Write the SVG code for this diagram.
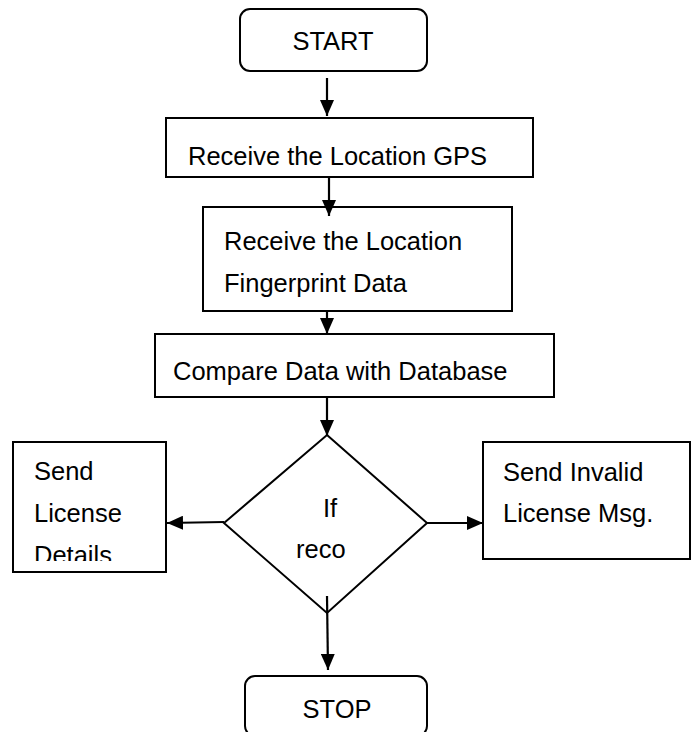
<svg xmlns="http://www.w3.org/2000/svg" width="693" height="732" viewBox="0 0 693 732">
<style>
.box{fill:#fff;stroke:#000;stroke-width:2}
.t{font-family:"Liberation Sans",Arial,sans-serif;font-size:25.5px;fill:#000}
.c{stroke:#000;stroke-width:2.2;fill:none}
</style>
<defs>
<marker id="ah" markerWidth="16" markerHeight="14" refX="16" refY="7" orient="auto" markerUnits="userSpaceOnUse">
<path d="M0,0 L16,7 L0,14 Z" fill="#000"/>
</marker>
<clipPath id="clipL"><rect x="0" y="440" width="200" height="121"/></clipPath>
</defs>
<rect width="693" height="732" fill="#fff"/>
<g id="start">
<rect class="box" x="240" y="9" width="187" height="62" rx="10"/>
<text class="t" x="333" y="50" text-anchor="middle">START</text>
</g>
<g id="gps">
<rect class="box" x="166" y="118" width="367" height="59"/>
<text class="t" x="188" y="165">Receive the Location GPS</text>
</g>
<g id="fingerprint">
<rect class="box" x="203" y="207" width="309" height="104"/>
<text class="t" x="224" y="250">Receive the Location</text>
<text class="t" x="224" y="292">Fingerprint Data</text>
</g>
<g id="compare">
<rect class="box" x="155" y="334" width="399" height="63"/>
<text class="t" x="173" y="380">Compare Data with Database</text>
</g>
<g id="decision">
<polygon class="box" points="327,435 427,523 327,613 224,523"/>
<text class="t" x="323" y="517">If</text>
<text class="t" x="296" y="558">reco</text>
</g>
<g id="sendLicense">
<rect class="box" x="13" y="442" width="153" height="130"/>
<g clip-path="url(#clipL)">
<text class="t" x="34" y="480">Send</text>
<text class="t" x="34" y="522">License</text>
<text class="t" x="34" y="564">Details</text>
</g>
</g>
<g id="sendInvalid">
<rect class="box" x="483" y="442" width="207" height="117"/>
<text class="t" x="503" y="481">Send Invalid</text>
<text class="t" x="503" y="522">License Msg.</text>
</g>
<g id="stop">
<rect class="box" x="245" y="676" width="182" height="60" rx="10"/>
<text class="t" x="337" y="718" text-anchor="middle">STOP</text>
</g>
<g id="connectors">
<line class="c" x1="327" y1="78" x2="327" y2="116" marker-end="url(#ah)"/>
<line class="c" x1="329" y1="177" x2="329" y2="216" marker-end="url(#ah)"/>
<line class="c" x1="327" y1="311" x2="327" y2="334" marker-end="url(#ah)"/>
<line class="c" x1="327" y1="397" x2="327" y2="436" marker-end="url(#ah)"/>
<line class="c" x1="224" y1="522" x2="167" y2="523" marker-end="url(#ah)"/>
<line class="c" x1="427" y1="523" x2="483" y2="523" marker-end="url(#ah)"/>
<line class="c" x1="327" y1="596" x2="328" y2="670" marker-end="url(#ah)"/>
</g>
</svg>
